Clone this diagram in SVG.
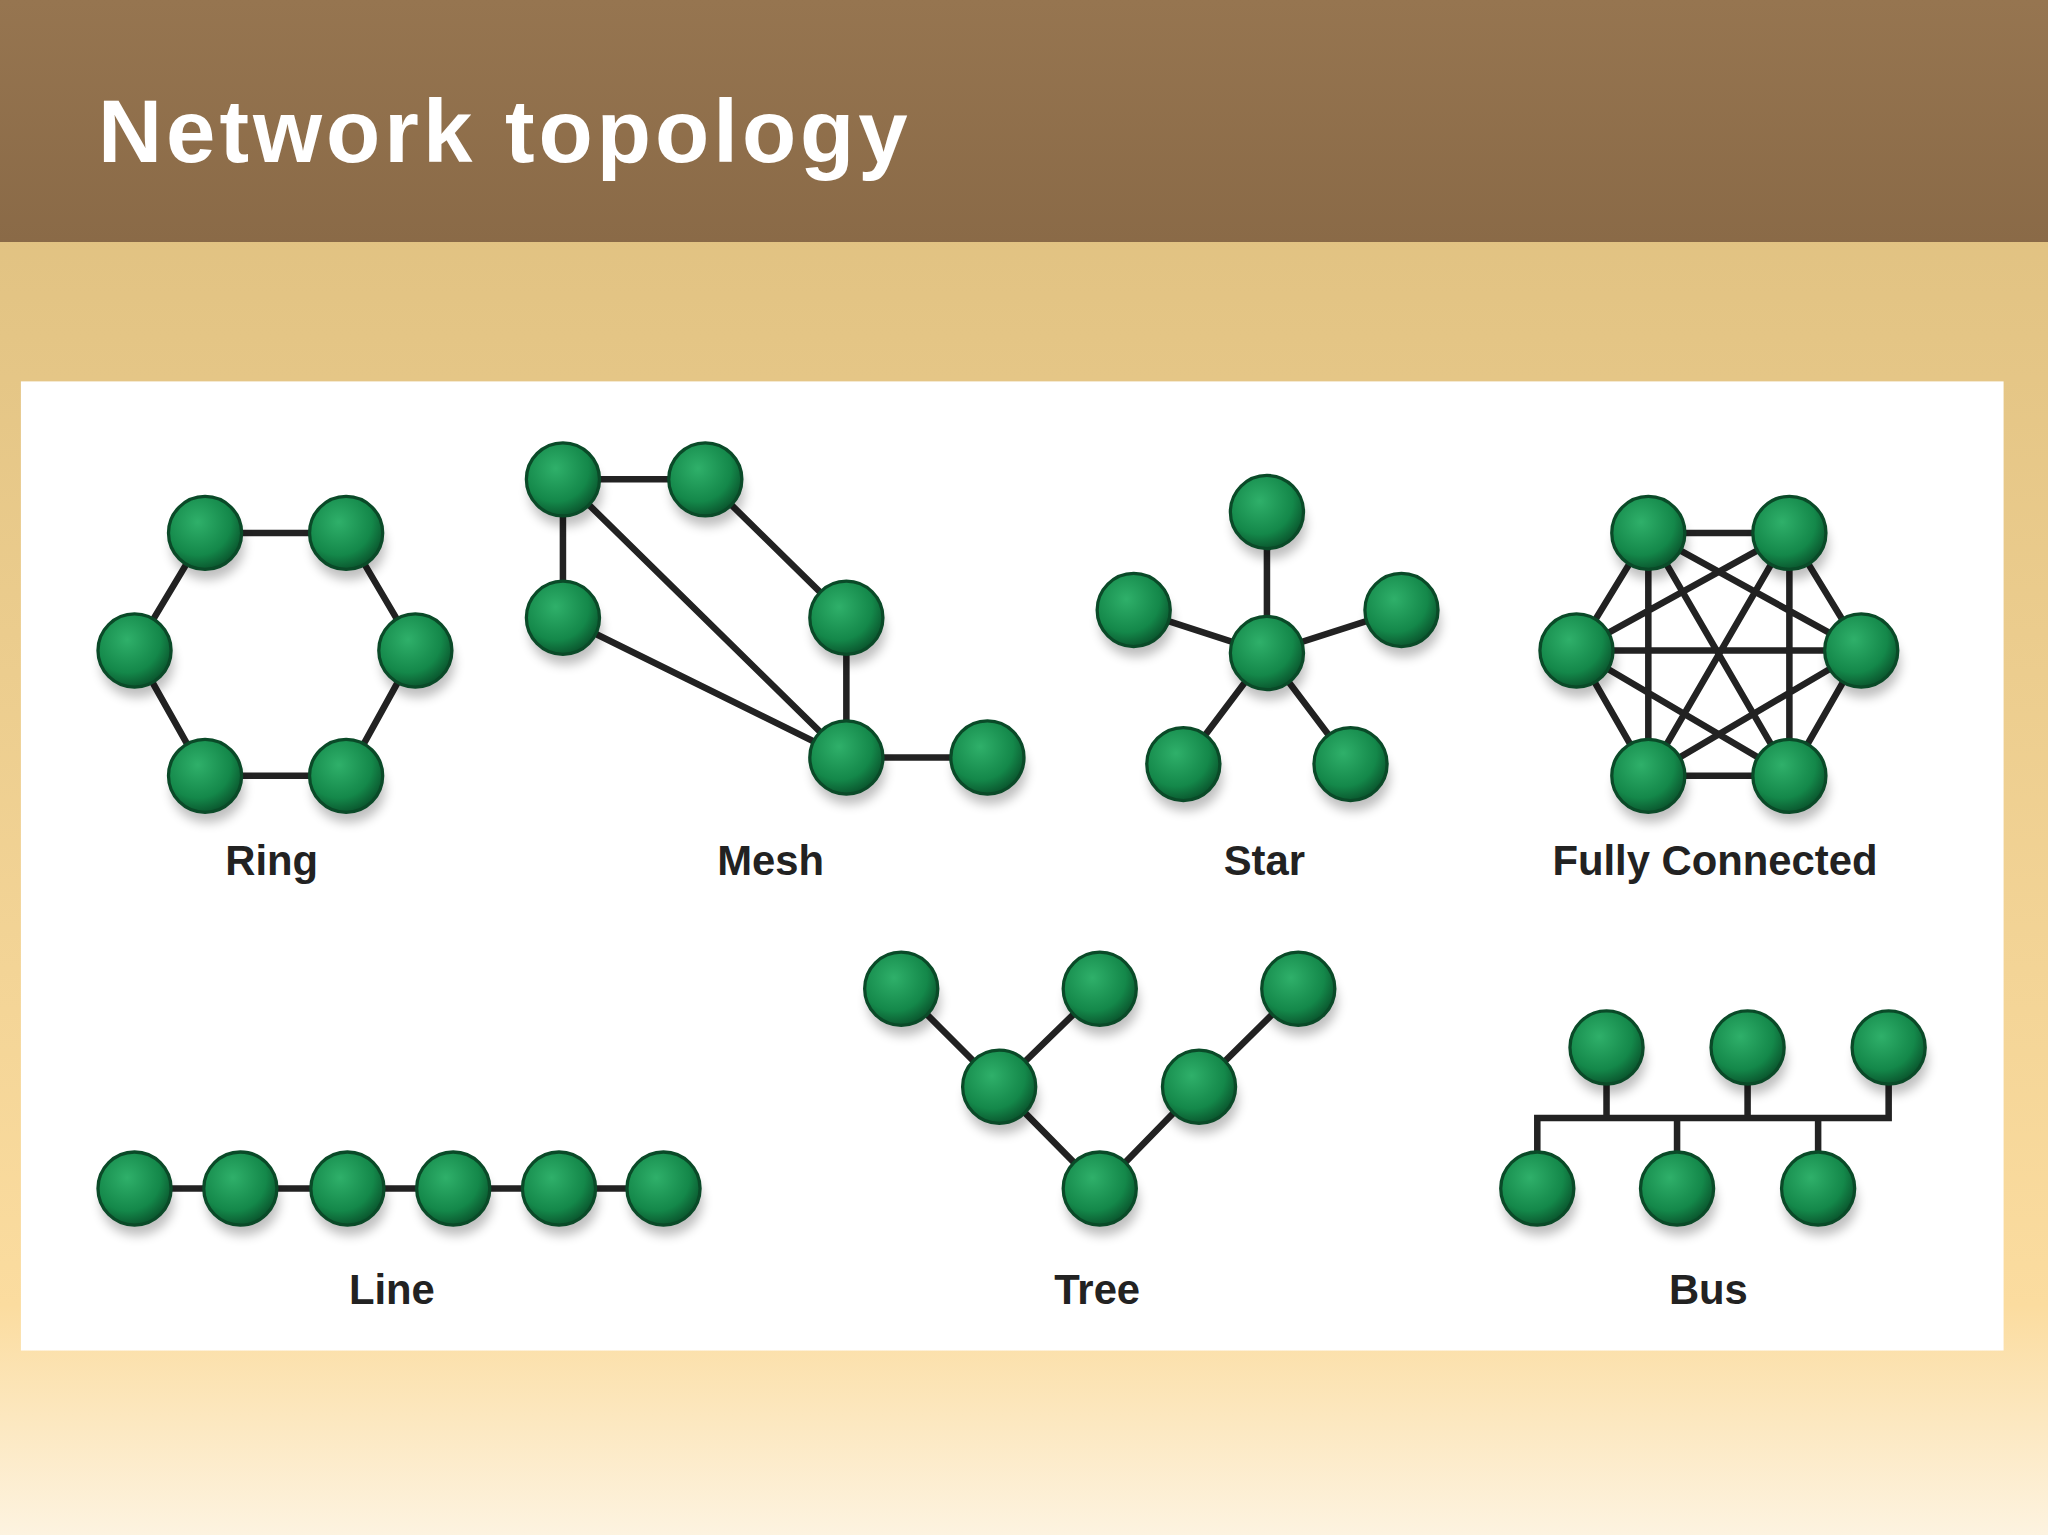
<svg xmlns="http://www.w3.org/2000/svg" width="2048" height="1535" viewBox="0 0 2048 1535">
<defs>
<linearGradient id="hdr" x1="0" y1="0" x2="0" y2="1"><stop offset="0" stop-color="#967550"/><stop offset="1" stop-color="#8a6a47"/></linearGradient>
<linearGradient id="bg" x1="0" y1="0" x2="0" y2="1"><stop offset="0" stop-color="#dcbd7c"/><stop offset="0.85" stop-color="#fbdc9f"/><stop offset="1" stop-color="#fdf3e0"/></linearGradient>
<radialGradient id="ng" cx="0.4" cy="0.35" r="0.65"><stop offset="0" stop-color="#2fb06a"/><stop offset="0.7" stop-color="#14884a"/><stop offset="1" stop-color="#0b5a30"/></radialGradient>
<filter id="sh" x="-50%" y="-50%" width="200%" height="200%"><feGaussianBlur stdDeviation="4"/></filter>
<symbol id="n" overflow="visible"><ellipse cx="2" cy="10" rx="28" ry="26" fill="#000" opacity="0.25" filter="url(#sh)"/><circle r="28" fill="url(#ng)" stroke="#0a4a28" stroke-width="2.5"/></symbol>
</defs>
<style>
.e{stroke:#222;stroke-width:5;fill:none}
.l{font-family:"Liberation Sans",Arial,sans-serif;font-weight:bold;font-size:32px;fill:#222;text-anchor:middle}
</style>
<rect width="2048" height="1535" fill="url(#bg)"/>
<rect width="2048" height="242" fill="url(#hdr)"/>
<g transform="scale(1.30612)">
<text x="75" y="124" font-family="Liberation Sans,Arial,sans-serif" font-weight="bold" font-size="68" fill="#fff" textLength="620" lengthAdjust="spacing">Network topology</text>
<rect x="16" y="292" width="1518" height="742" fill="#fff"/>
<g id="connectors" class="e">
<polygon points="157,408 265,408 318,498 265,594 157,594 103,498"/>
<path d="M431,367H540M431,367V473M431,367L648,580M431,473L648,580M540,367L648,473V580H756"/>
<path d="M970,392V500M868,467L970,500L1073,467M906,585L970,500L1034,585"/>
<path d="M1262,408L1370,408M1262,408L1207,498M1262,408L1425,498M1262,408L1262,594M1262,408L1370,594M1370,408L1207,498M1370,408L1425,498M1370,408L1262,594M1370,408L1370,594M1207,498L1425,498M1207,498L1262,594M1207,498L1370,594M1425,498L1262,594M1425,498L1370,594M1262,594L1370,594"/>
<path d="M103,910H508"/>
<path d="M690,757L765,832L842,757M765,832L842,910L918,832L994,757"/>
<path d="M1177,910V856H1446V802M1230,802V856M1338,802V856M1284,856V910M1392,856V910"/>
</g>
<g id="ring"><use href="#n" x="157" y="408"/><use href="#n" x="265" y="408"/><use href="#n" x="103" y="498"/><use href="#n" x="318" y="498"/><use href="#n" x="157" y="594"/><use href="#n" x="265" y="594"/><text class="l" x="208" y="670">Ring</text></g>
<g id="mesh"><use href="#n" x="431" y="367"/><use href="#n" x="540" y="367"/><use href="#n" x="431" y="473"/><use href="#n" x="648" y="473"/><use href="#n" x="648" y="580"/><use href="#n" x="756" y="580"/><text class="l" x="590" y="670">Mesh</text></g>
<g id="star"><use href="#n" x="970" y="392"/><use href="#n" x="868" y="467"/><use href="#n" x="1073" y="467"/><use href="#n" x="970" y="500"/><use href="#n" x="906" y="585"/><use href="#n" x="1034" y="585"/><text class="l" x="968" y="670">Star</text></g>
<g id="full"><use href="#n" x="1262" y="408"/><use href="#n" x="1370" y="408"/><use href="#n" x="1207" y="498"/><use href="#n" x="1425" y="498"/><use href="#n" x="1262" y="594"/><use href="#n" x="1370" y="594"/><text class="l" x="1313" y="670">Fully Connected</text></g>
<g id="line"><use href="#n" x="103" y="910"/><use href="#n" x="184" y="910"/><use href="#n" x="266" y="910"/><use href="#n" x="347" y="910"/><use href="#n" x="428" y="910"/><use href="#n" x="508" y="910"/><text class="l" x="300" y="998">Line</text></g>
<g id="tree"><use href="#n" x="690" y="757"/><use href="#n" x="842" y="757"/><use href="#n" x="994" y="757"/><use href="#n" x="765" y="832"/><use href="#n" x="918" y="832"/><use href="#n" x="842" y="910"/><text class="l" x="840" y="998">Tree</text></g>
<g id="bus"><use href="#n" x="1230" y="802"/><use href="#n" x="1338" y="802"/><use href="#n" x="1446" y="802"/><use href="#n" x="1177" y="910"/><use href="#n" x="1284" y="910"/><use href="#n" x="1392" y="910"/><text class="l" x="1308" y="998">Bus</text></g>
</g>
</svg>
